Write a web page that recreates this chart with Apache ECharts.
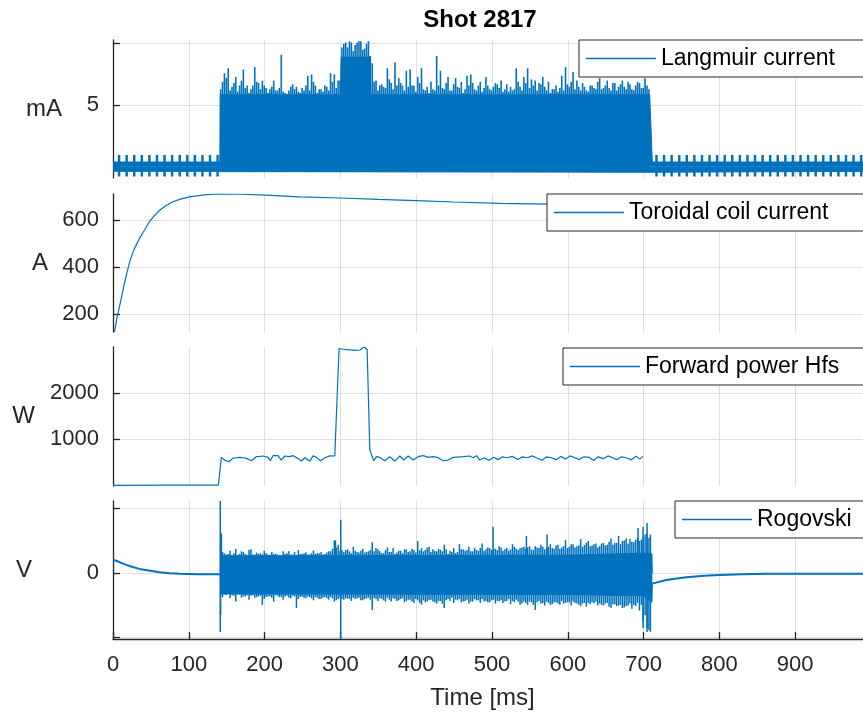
<!DOCTYPE html>
<html><head><meta charset="utf-8">
<script src="https://cdn.jsdelivr.net/npm/echarts@6/dist/echarts.min.js"></script>
<style>html,body{margin:0;padding:0;background:#fff}#c{width:863px;height:715px}</style>
</head><body><div id="c"></div>
<script>
// ---------------- data ----------------
const xTicks = [0,100,200,300,400,500,600,700,800,900];
const xLabel = 'Time [ms]';
const titleText = 'Shot 2817';

// Panel 1: Langmuir current (mA)
const langYTicks = [0,5,10];
const langYLabels = [5];
const langSpikeT = [8,18,28,38,48,58,68,78,88,98,108,118,128,138,
  717,727,737,747,757,767,777,787,797,807,817,827,837,847,857,867,877,887,897,907,917,927,937,947,957,967,977,987];
const langSpikeLo = -0.8, langSpikeHi = 0.95;
// solid body of the signal: [time, upper edge] / [time, lower edge]
const langBodyTop = [[0,0.38],[141,0.38],[141.5,5.85],[300,5.85],[301,8.9],[339,8.9],[340,5.85],[708,5.85],[708.5,5.1],[711,5.1],[711.5,0.38],[1000,0.38]];
const langBodyBottom = [[0,-0.38],[141,-0.38],[141.5,-0.45],[711,-0.45],[711.5,-0.38],[1000,-0.38]];
// peak envelope during the pulse, two interleaved regular time grids
const langNoiseStart = 142, langNoiseStep = 5;
const langNoiseTop = [
  6.3,7.6,8.0,6.5,7.3,6.6,7.9,6.6,6.3,8.1,
  6.8,7.0,6.4,6.3,7.0,6.2,9.1,6.0,6.2,6.7,
  6.5,6.0,6.2,7.4,7.5,6.6,6.3,6.1,6.5,7.6,
  7.5,7.0,9.7,10.1,10.2,9.4,10.1,10.2,9.6,10.2,
  8.4,7.0,6.6,6.5,8.0,6.8,8.5,7.2,6.6,7.8,
  7.9,6.6,7.3,8.0,6.2,6.0,6.3,9.0,7.8,6.3,
  7.3,6.2,7.2,6.4,6.0,7.4,7.5,6.3,6.6,6.1,
  7.3,6.3,6.5,6.7,7.0,6.3,6.1,6.2,8.0,6.5,
  7.3,8.0,7.1,7.0,6.8,7.3,6.2,6.0,6.3,6.1,
  7.4,8.1,6.5,7.7,7.0,6.2,6.5,6.1,6.6,6.3,
  7.2,6.4,7.0,6.2,6.8,6.5,7.0,6.3,6.7,6.2,
  6.9,6.4,7.2,6.3];
const langNoiseStart2 = 144.5;
const langNoiseTop2 = [
  6.9,7.2,6.2,6.8,6.1,7.0,6.4,6.0,6.6,6.9,
  6.3,6.6,6.0,6.5,6.2,6.4,6.1,5.9,6.5,6.3,
  6.1,6.4,6.6,6.2,6.9,6.0,6.3,6.6,6.2,6.9,
  6.4,7.0,10.0,9.7,10.1,9.9,10.2,9.5,10.0,9.0,
  6.9,6.2,6.7,6.4,7.1,6.3,6.6,6.8,6.2,6.5,
  6.6,6.1,6.8,6.3,6.5,6.9,6.2,6.6,6.4,6.8,
  6.2,6.7,6.5,6.9,6.3,6.6,6.8,6.2,6.9,6.4,
  6.6,6.2,6.8,6.4,6.1,6.7,6.5,6.3,6.9,6.2,
  6.8,6.4,6.6,6.2,6.7,6.5,6.9,6.3,6.6,6.4,
  6.2,6.7,6.9,6.3,6.5,6.8,6.2,6.6,6.4,6.9,
  6.3,6.6,6.4,6.8,6.2,6.7,6.5,6.9,6.3,6.6,
  6.8,6.4,6.6];
const langNoiseFloor = -0.45;

// Panel 2: Toroidal coil current (A)
const toroYTicks = [200,400,600];
const toroT = [2,5,9,15,22,28,35,42,48,55,62,70,79,90,101,120,136,170,202,246,300,350,400,450,510,572,700,850,1000];
const toroV = [123,180,238,330,423,477,522,560,593,620,643,662,678,690,699,707,711,710,706,699,694,688,683,677,671,668,655,640,625];

// Panel 3: Forward power Hfs (W)
const fwdYTicks = [1000,2000];
const fwdT = [0,70,139,143,147,153,158,163,167,172,176,182.6,189,194,198,204.5,207.6,211,217.7,222,226.5,233,237.5,244,248.6,253,259.6,264,268.4,273.7,279.4,286,292.6,294.5,
  298.2,308,320,326,329,332,335.3,338.8,344,347.6,352,358.6,365,371.8,378.4,383.6,389.4,396,402.6,409.2,415.8,422.4,429,435.6,442,448.8,455,462,470.7,475,479.6,484,
  490,496,502,508,514,520,527,534,540,547,553,560,566,572,578,585,591,597,603,609,615,621,628,634,640,647,653,659,665,671,677,684,690,695,699];
const fwdV = [3,5,7,608,550,514,587,600,608,600,587,536,623,630,638,608,536,645,645,550,638,623,645,587,528,601,528,640,608,536,600,640,638,638,
  2967,2941,2927,2935,2978,3000,2941,767,536,623,608,536,623,528,638,550,638,550,623,645,608,623,601,536,550,608,615,623,638,601,645,550,
  600,540,610,560,620,600,630,560,620,600,640,590,545,620,600,560,630,575,640,600,560,620,610,540,620,580,640,600,560,620,600,555,635,570,630];

// Panel 4: Rogovski (V)
const rogoYTicks = [-1,0,1];
const rogoYLabels = [0];
const rogoPreT = [0,5,10,17.6,25,35,45,61.5,75,88,110,141];
const rogoPreV = [0.21,0.19,0.165,0.13,0.1,0.067,0.045,0.015,0.0,-0.01,-0.015,-0.015];
const rogoPostT = [711.5,715,730,756,780,800,830,862,920,1000];
const rogoPostV = [-0.16,-0.15,-0.104,-0.062,-0.04,-0.026,-0.016,-0.01,-0.008,-0.008];
const rogoBodyTop = [[141.5,0.27],[600,0.28],[700,0.31],[711,0.3],[711.5,0]];
const rogoBodyBottom = [[141.5,-0.32],[600,-0.33],[700,-0.35],[711,-0.45],[711.5,-0.16]];
const rogoNoiseStart = 142, rogoNoiseStep = 5;
const rogoHi = [
  0.45,0.31,0.30,0.28,0.38,0.30,0.33,0.28,0.37,0.29,
  0.30,0.29,0.31,0.28,0.30,0.29,0.27,0.30,0.34,0.29,
  0.28,0.30,0.31,0.29,0.31,0.30,0.31,0.29,0.32,0.34,
  0.51,0.44,0.36,0.36,0.34,0.41,0.33,0.35,0.32,0.34,
  0.48,0.39,0.34,0.31,0.40,0.33,0.30,0.35,0.31,0.37,
  0.34,0.36,0.50,0.39,0.36,0.41,0.37,0.34,0.36,0.44,
  0.30,0.33,0.31,0.45,0.37,0.36,0.34,0.39,0.35,0.46,
  0.37,0.39,0.38,0.36,0.40,0.37,0.35,0.45,0.38,0.39,
  0.41,0.40,0.37,0.42,0.39,0.41,0.40,0.45,0.38,0.44,
  0.40,0.52,0.41,0.45,0.42,0.53,0.44,0.50,0.43,0.46,
  0.42,0.47,0.44,0.54,0.47,0.58,0.50,0.54,0.53,0.48,
  0.55,0.52,0.60,0.55];
const rogoLo = [
  -0.65,-0.33,-0.32,-0.34,-0.44,-0.33,-0.36,-0.34,-0.35,-0.38,
  -0.36,-0.49,-0.37,-0.36,-0.44,-0.35,-0.37,-0.36,-0.38,-0.35,
  -0.54,-0.37,-0.38,-0.36,-0.39,-0.37,-0.40,-0.38,-0.39,-0.37,
  -0.44,-0.40,-0.40,-0.39,-0.40,-0.38,-0.39,-0.42,-0.40,-0.38,
  -0.57,-0.40,-0.39,-0.42,-0.38,-0.44,-0.40,-0.42,-0.39,-0.43,
  -0.41,-0.46,-0.42,-0.49,-0.45,-0.42,-0.44,-0.47,-0.43,-0.54,
  -0.40,-0.38,-0.41,-0.40,-0.44,-0.41,-0.44,-0.40,-0.42,-0.40,
  -0.43,-0.45,-0.41,-0.43,-0.42,-0.44,-0.40,-0.43,-0.41,-0.49,
  -0.44,-0.49,-0.45,-0.57,-0.43,-0.46,-0.44,-0.49,-0.45,-0.47,
  -0.43,-0.46,-0.45,-0.44,-0.47,-0.51,-0.46,-0.46,-0.45,-0.44,
  -0.47,-0.50,-0.46,-0.54,-0.48,-0.50,-0.54,-0.51,-0.47,-0.49,
  -0.46,-0.49,-0.65,-0.88];
const rogoNoiseStart2 = 144.5;
const rogoHi2 = [
  0.33,0.29,0.35,0.31,0.28,0.34,0.30,0.36,0.29,0.32,
  0.31,0.35,0.29,0.33,0.30,0.28,0.34,0.31,0.29,0.33,
  0.36,0.30,0.32,0.29,0.35,0.31,0.33,0.30,0.34,0.38,
  0.40,0.35,0.33,0.37,0.31,0.35,0.32,0.38,0.33,0.36,
  0.34,0.37,0.31,0.36,0.33,0.39,0.32,0.35,0.37,0.33,
  0.38,0.32,0.36,0.34,0.40,0.33,0.35,0.38,0.34,0.37,
  0.35,0.39,0.33,0.37,0.35,0.41,0.34,0.36,0.39,0.35,
  0.40,0.36,0.38,0.42,0.35,0.39,0.37,0.41,0.36,0.40,
  0.38,0.42,0.36,0.40,0.44,0.37,0.41,0.39,0.43,0.38,
  0.42,0.39,0.45,0.40,0.43,0.41,0.47,0.42,0.45,0.40,
  0.46,0.43,0.49,0.44,0.47,0.45,0.51,0.46,0.49,0.52,
  0.50,0.56,0.62];
const rogoLo2 = [
  -0.37,-0.34,-0.39,-0.35,-0.33,-0.38,-0.36,-0.41,-0.34,-0.37,
  -0.35,-0.40,-0.36,-0.38,-0.34,-0.37,-0.41,-0.35,-0.39,-0.36,
  -0.40,-0.36,-0.39,-0.37,-0.42,-0.38,-0.40,-0.37,-0.41,-0.39,
  -0.42,-0.38,-0.41,-0.39,-0.43,-0.40,-0.38,-0.42,-0.39,-0.41,
  -0.39,-0.43,-0.40,-0.44,-0.41,-0.39,-0.43,-0.40,-0.45,-0.41,
  -0.44,-0.40,-0.46,-0.42,-0.44,-0.41,-0.45,-0.43,-0.47,-0.42,
  -0.43,-0.46,-0.42,-0.45,-0.43,-0.47,-0.44,-0.42,-0.46,-0.44,
  -0.45,-0.42,-0.47,-0.44,-0.46,-0.43,-0.48,-0.45,-0.44,-0.47,
  -0.46,-0.44,-0.49,-0.45,-0.47,-0.50,-0.46,-0.48,-0.45,-0.49,
  -0.47,-0.45,-0.50,-0.46,-0.49,-0.47,-0.52,-0.48,-0.46,-0.50,
  -0.49,-0.47,-0.52,-0.48,-0.51,-0.49,-0.53,-0.50,-0.55,-0.51,
  -0.58,-0.75,-0.85];
// isolated spikes: [time, low, high]
const rogoSpikes = [[141.5,-0.91,1.12],[143,-0.3,0.62],[293.5,-0.3,0.51],[300.5,-1.02,0.83],[501.4,-0.3,0.72],
  [545.4,-0.3,0.58],[572.6,-0.3,0.6],[692.7,-0.3,0.7],[699.3,-0.85,0.72],[704.6,-0.91,0.78],[709,-0.91,0.6]];

const names = ['Langmuir current','Toroidal coil current','Forward power Hfs','Rogovski'];
const units = ['mA','A','W','V'];

// ---------------- build ----------------
const BLUE = '#0072BD', INK = '#262626', GRIDC = '#dfdfdf';
const FONT = '"Liberation Sans", Arial, Helvetica, sans-serif';

const gridBoxes = [{top:40,height:138},{top:194,height:138},{top:347,height:139},{top:501,height:138}];
const yRanges = [[-0.92,10.3],[123,711],[-12,3000],[-1.02,1.12]];
const yTickSets = [langYTicks, toroYTicks, fwdYTicks, rogoYTicks];
const yLabelSets = [langYLabels, toroYTicks, fwdYTicks, rogoYLabels];
const yNameGaps = [51,65,78,81];
const legendLeft = [579,547,563,675];

const zip = (a,b) => a.map((v,i)=>[v,b[i]]);

const langPeaks = langNoiseTop.map((v,i) => [langNoiseStart+i*langNoiseStep, langNoiseFloor, v])
  .concat(langNoiseTop2.map((v,i) => [langNoiseStart2+i*langNoiseStep, langNoiseFloor, v]));
const rogoPeaks = rogoHi.map((v,i) => [rogoNoiseStart+i*rogoNoiseStep, rogoLo[i], v])
  .concat(rogoHi2.map((v,i) => [rogoNoiseStart2+i*rogoNoiseStep, rogoLo2[i], v]));

function spikeRender(w){
  return function(params, api){
    const a = api.coord([api.value(0), api.value(1)]);
    const b = api.coord([api.value(0), api.value(2)]);
    return {type:'line', shape:{x1:a[0],y1:a[1],x2:b[0],y2:b[1]}, style:{stroke:BLUE, lineWidth:w}};
  };
}

const grids = gridBoxes.map(g => ({left:113, width:758, top:g.top, height:g.height,
  containLabel:false, outerBoundsMode:'none'}));
const xAxes = gridBoxes.map((g,i) => ({
  type:'value', gridIndex:i, min:0, max:1000, interval:100,
  axisLine:{show:i===3, onZero:false, lineStyle:{color:INK,width:1.3}},
  axisTick:{show:i===3, inside:true, length:7, lineStyle:{color:INK,width:1.3}},
  axisLabel:{show:i===3, margin:15, color:INK, fontSize:22, fontFamily:FONT,
    formatter: v => xTicks.includes(v) ? String(v) : ''},
  splitLine:{show:true, lineStyle:{color:GRIDC,width:1}},
  name: i===3 ? xLabel : '', nameLocation:'middle', nameGap:47,
  nameTextStyle:{color:INK, fontSize:24, fontFamily:FONT, padding:[0,19,0,0]}
}));
const yAxes = gridBoxes.map((g,i) => ({
  type:'value', gridIndex:i, min:yRanges[i][0], max:yRanges[i][1],
  axisLine:{show:true, onZero:false, lineStyle:{color:INK,width:1.3}},
  axisTick:{show:true, inside:true, length:7, lineStyle:{color:INK,width:1.3}, customValues:yTickSets[i]},
  axisLabel:{show:true, margin:14, color:INK, fontSize:22, fontFamily:FONT, customValues:yLabelSets[i],
    formatter: v => String(v)},
  splitLine:{show:true, lineStyle:{color:GRIDC,width:1}},
  name: units[i], nameLocation:'middle', nameRotate:0, nameGap:yNameGaps[i],
  nameTextStyle:{color:INK, fontSize:24, fontFamily:FONT}
}));

const areaLine = (name, data, xi) => ({
  type:'line', name, xAxisIndex:xi, yAxisIndex:xi, data, symbol:'none', showSymbol:false,
  lineStyle:{color:BLUE,width:1}, itemStyle:{color:BLUE},
  areaStyle:{color:BLUE, opacity:1, origin:0}, animation:false
});
const plainLine = (name, data, xi, w) => ({
  type:'line', name, xAxisIndex:xi, yAxisIndex:xi, data, symbol:'none', showSymbol:false,
  lineStyle:{color:BLUE,width:w}, itemStyle:{color:BLUE}, animation:false
});
const spikes = (name, data, xi, w) => ({
  type:'custom', name, xAxisIndex:xi, yAxisIndex:xi, data, clip:true,
  encode:{x:0, y:[1,2]}, renderItem: spikeRender(w), itemStyle:{color:BLUE}, animation:false
});

const series = [
  areaLine(names[0], langBodyTop, 0),
  areaLine('lang-floor', langBodyBottom, 0),
  spikes('lang-peaks', langPeaks, 0, 1.6),
  spikes('lang-spikes', langSpikeT.map(t => [t, langSpikeLo, langSpikeHi]), 0, 2.5),
  plainLine(names[1], zip(toroT, toroV), 1, 1.2),
  plainLine(names[2], zip(fwdT, fwdV), 2, 1.2),
  areaLine(names[3], rogoBodyTop, 3),
  areaLine('rogo-low', rogoBodyBottom, 3),
  spikes('rogo-peaks', rogoPeaks, 3, 1.5),
  plainLine('rogo-pre', zip(rogoPreT, rogoPreV), 3, 2),
  plainLine('rogo-post', zip(rogoPostT, rogoPostV), 3, 2),
  spikes('rogo-spikes', rogoSpikes, 3, 1.5)
];

const legends = names.map((n,i) => ({
  data:[n], left:legendLeft[i], top:gridBoxes[i].top + (i===2 ? 1 : 0),
  orient:'horizontal', icon:'rect', itemWidth:70, itemHeight:1.3,
  itemStyle:{color:BLUE}, selectedMode:false,
  backgroundColor:'#ffffff', borderColor:INK, borderWidth:1, borderRadius:0,
  padding:[7,60,7,7],
  textStyle:{color:'#000', fontSize:23, fontFamily:FONT}
}));

const chart = echarts.init(document.getElementById('c'), null, {renderer:'canvas'});
chart.setOption({
  animation:false,
  backgroundColor:'#ffffff',
  textStyle:{fontFamily:FONT},
  graphic:[{type:'text', x:480, y:20, z:10,
    style:{text:titleText, align:'center', verticalAlign:'middle', fontSize:24, fontWeight:'bold', fontFamily:FONT, fill:'#000'}}],
  grid:grids, xAxis:xAxes, yAxis:yAxes, legend:legends, series
});
</script></body></html>
